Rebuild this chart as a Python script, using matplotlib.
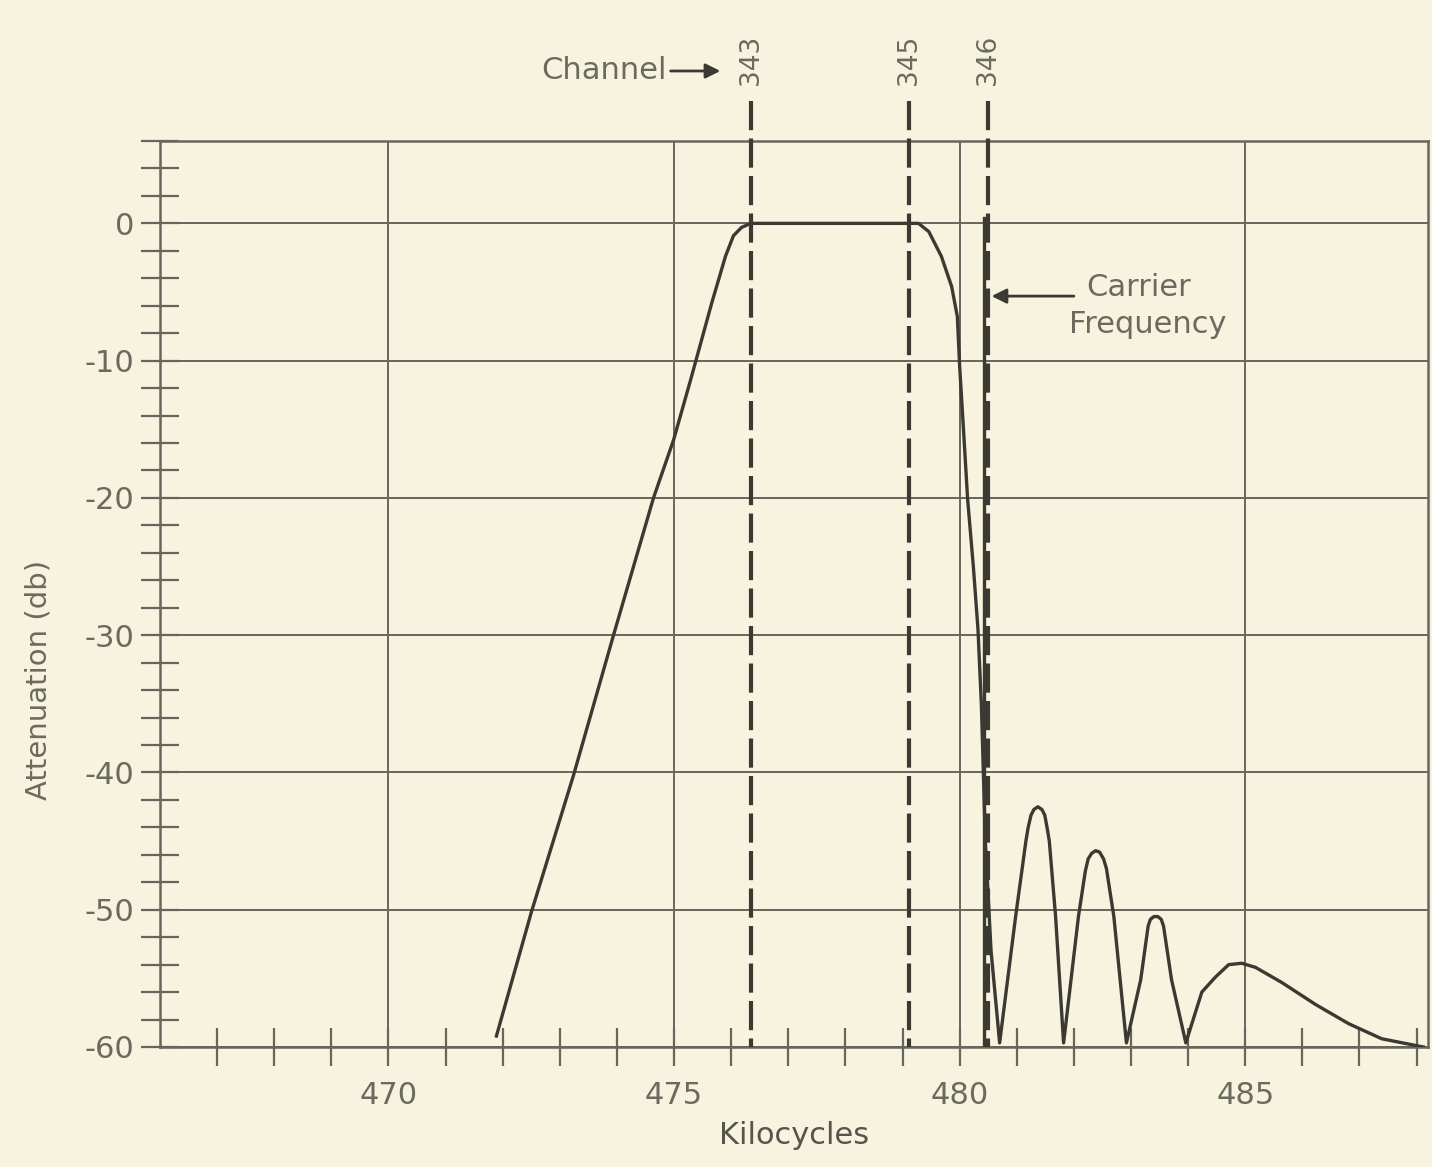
import matplotlib
matplotlib.use("Agg")
import matplotlib.pyplot as plt

# filter response (kc, db)
freq = [471.89, 472.50, 473.24, 473.94, 474.64, 474.99, 475.29, 475.66, 475.90, 476.04,
        476.18, 476.34, 479.28, 479.46, 479.68, 479.86, 479.96, 480.00, 480.07, 480.14,
        480.24, 480.32, 480.38, 480.45, 480.55, 480.70,
        480.98, 481.16, 481.20, 481.25, 481.30, 481.37, 481.44, 481.49, 481.53, 481.57, 481.68, 481.82,
        482.08, 482.20, 482.25, 482.31, 482.38, 482.45, 482.52, 482.57, 482.70, 482.92,
        483.17, 483.30, 483.34, 483.40, 483.47, 483.53, 483.57, 483.71, 483.96,
        484.24, 484.48, 484.71, 484.94, 485.18, 485.64, 486.23, 486.81, 487.39, 488.12]
atten = [-59.2, -50.2, -40.2, -30.0, -20.0, -15.8, -11.4, -5.8, -2.4, -0.9,
         -0.3, 0.0, 0.0, -0.6, -2.4, -4.6, -6.8, -10.4, -15.2, -20.1,
         -25.0, -29.5, -35.0, -45.0, -53.0, -59.7,
         -50.5, -45.0, -44.0, -43.1, -42.7, -42.5, -42.7, -43.1, -44.0, -45.0, -50.5, -59.7,
         -50.5, -47.2, -46.3, -45.9, -45.7, -45.8, -46.3, -47.0, -50.5, -59.7,
         -55.1, -51.2, -50.7, -50.5, -50.5, -50.7, -51.2, -55.1, -59.7,
         -56.0, -54.9, -54.0, -53.9, -54.2, -55.3, -56.9, -58.3, -59.4, -60.0]

channel_names = ["343", "345", "346"]
channel_freqs = [476.34, 479.11, 480.50]
carrier_freq = 480.43

x_major = [470, 475, 480, 485]
x_labels = ["470", "475", "480", "485"]
x_minor = [467, 468, 469, 471, 472, 473, 474, 476, 477, 478, 479,
           481, 482, 483, 484, 486, 487, 488]
y_major = [0, -10, -20, -30, -40, -50, -60]
y_labels = ["0", "-10", "-20", "-30", "-40", "-50", "-60"]
y_minor = [6, 4, 2, -2, -4, -6, -8, -12, -14, -16, -18, -22, -24, -26, -28,
           -32, -34, -36, -38, -42, -44, -46, -48, -52, -54, -56, -58]

paper = "#f7f3df"
ink = "#3a3a32"
gridc = "#66665c"
textc = "#6a6a5f"

plt.rcParams["font.family"] = ["DejaVu Sans"]

fig = plt.figure(figsize=(14.32, 11.67), dpi=100, facecolor=paper)
ax = fig.add_axes([160 / 1432, 1 - 1047 / 1167, (1428 - 160) / 1432, (1047 - 141) / 1167])
ax.set_facecolor(paper)
ax.set_xlim(466, 488.2)
ax.set_ylim(-60, 6)

ax.set_xticks(x_major)
ax.set_xticklabels(x_labels)
ax.set_xticks(x_minor, minor=True)
ax.set_yticks(y_major)
ax.set_yticklabels(y_labels)
ax.set_yticks(y_minor, minor=True)

ax.grid(True, which="major", color=gridc, lw=1.4)
ax.tick_params(axis="both", which="both", direction="inout", length=27, width=1.6, color=gridc)
ax.tick_params(axis="x", which="major", pad=11, labelsize=22, labelcolor=textc)
ax.tick_params(axis="y", which="major", pad=5, labelsize=22, labelcolor=textc)
for s in ax.spines.values():
    s.set_color(gridc)
    s.set_linewidth(1.8)

ax.plot(freq, atten, color=ink, lw=2.4, solid_joinstyle="round", zorder=4)

# channel markers above the plot
for name, f in zip(channel_names, channel_freqs):
    ax.plot([f, f], [8.9, -60], color=ink, lw=3, ls=(0, (7, 2)), clip_on=False, zorder=3)
    ax.text(f, 11.9, name, rotation=90, ha="center", va="center", fontsize=19, color=textc)

ax.plot([carrier_freq, carrier_freq], [0.4, -60], color=ink, lw=2.4, zorder=3)

ax.annotate("", xy=(475.81, 11.1), xytext=(474.94, 11.1), annotation_clip=False,
            arrowprops=dict(arrowstyle="-|>", color=ink, lw=2, mutation_scale=22, shrinkA=0, shrinkB=0))
ax.text(474.87, 11.1, "Channel", ha="right", va="center", fontsize=22, color=textc)

ax.annotate("", xy=(480.56, -5.3), xytext=(482.0, -5.3),
            arrowprops=dict(arrowstyle="-|>", color=ink, lw=2, mutation_scale=22, shrinkA=0, shrinkB=0))
ax.text(483.13, -4.66, "Carrier", ha="center", va="center", fontsize=22, color=textc)
ax.text(483.29, -7.36, "Frequency", ha="center", va="center", fontsize=22, color=textc)

ax.set_xlabel("Kilocycles", fontsize=22, color="#55554b", labelpad=8)
ax.set_ylabel("Attenuation (db)", fontsize=21, color=textc)
ax.yaxis.set_label_coords(-0.085, 0.405)

fig.savefig("out.png", dpi=100, facecolor=paper)
